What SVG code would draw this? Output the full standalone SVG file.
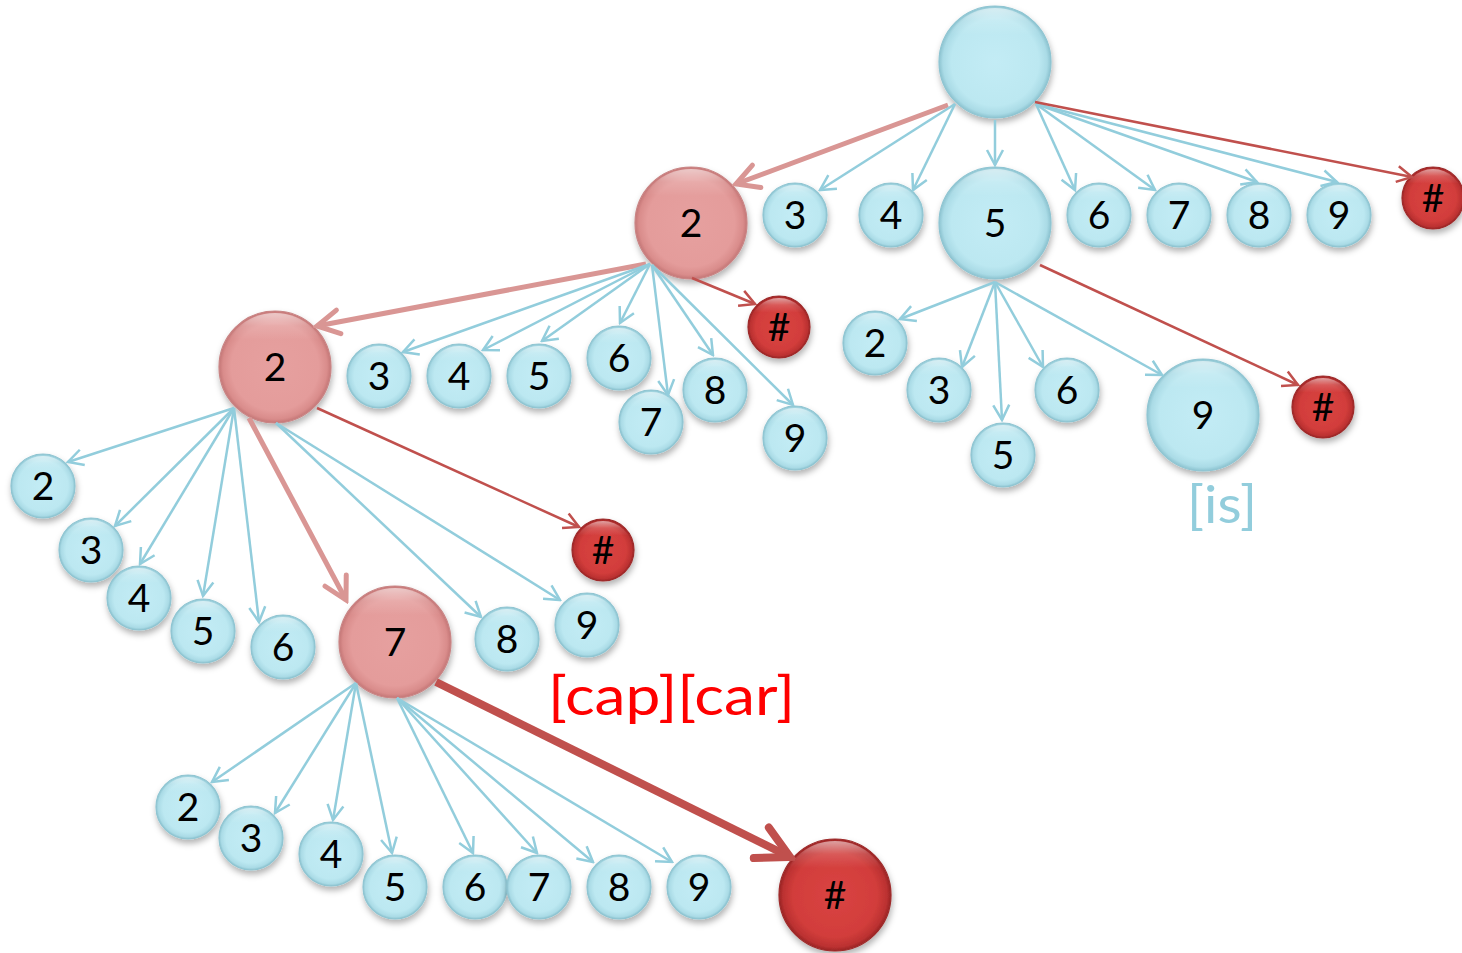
<svg xmlns="http://www.w3.org/2000/svg" width="1462" height="953" viewBox="0 0 1462 953">
<style>
.nb{fill:url(#gb);stroke:#8fc5d2;stroke-width:1.2;filter:url(#sh)}
.np{fill:url(#gp);stroke:#c98585;stroke-width:1.2;filter:url(#sh)}
.nr{fill:url(#gr);stroke:#9e2a2a;stroke-width:1.2;filter:url(#sh)}
.hl{fill:url(#ghl);stroke:none}
.t{font-family:Lato,"Liberation Sans",sans-serif;font-size:39px;fill:#000;text-anchor:middle}
.eb{stroke:#92cddc;stroke-width:2.5;fill:none;marker-end:url(#mb)}
.er{stroke:#c0504d;stroke-width:2.5;fill:none;marker-end:url(#mr)}
.ep{stroke:#d99694;stroke-width:5;fill:none;marker-end:url(#mp)}
.ed{stroke:#c0504d;stroke-width:8;fill:none;marker-end:url(#md)}
.lbl{font-family:Lato,"Liberation Sans",sans-serif}
</style>
<defs>
<filter id="sh" x="-30%" y="-30%" width="160%" height="170%">
<feDropShadow dx="1" dy="4" stdDeviation="3" flood-color="#000" flood-opacity="0.3"/>
</filter>
<radialGradient id="gb" cx="0.5" cy="0.5" r="0.5">
<stop offset="0" stop-color="#c3ecf5"/>
<stop offset="0.78" stop-color="#bce8f1"/>
<stop offset="0.93" stop-color="#aadbe6"/>
<stop offset="1" stop-color="#8cc3d0"/>
</radialGradient>
<radialGradient id="gp" cx="0.5" cy="0.5" r="0.5">
<stop offset="0" stop-color="#e6a09f"/>
<stop offset="0.78" stop-color="#e49c9b"/>
<stop offset="0.93" stop-color="#d98c8b"/>
<stop offset="1" stop-color="#c47676"/>
</radialGradient>
<radialGradient id="gr" cx="0.5" cy="0.5" r="0.5">
<stop offset="0" stop-color="#d94442"/>
<stop offset="0.75" stop-color="#d23d3b"/>
<stop offset="0.93" stop-color="#bb3131"/>
<stop offset="1" stop-color="#982424"/>
</radialGradient>
<linearGradient id="ghl" x1="0" y1="0" x2="0" y2="1">
<stop offset="0" stop-color="#fff" stop-opacity="0.55"/>
<stop offset="0.12" stop-color="#fff" stop-opacity="0.15"/>
<stop offset="0.25" stop-color="#fff" stop-opacity="0"/>
</linearGradient>
<marker id="mb" viewBox="0 0 20 20" refX="18" refY="10" markerWidth="20" markerHeight="20" markerUnits="userSpaceOnUse" orient="auto">
<path d="M3,2 L18,10 L3,18" fill="none" stroke="#92cddc" stroke-width="2.5"/>
</marker>
<marker id="mr" viewBox="0 0 20 20" refX="18" refY="10" markerWidth="20" markerHeight="20" markerUnits="userSpaceOnUse" orient="auto">
<path d="M3,2 L18,10 L3,18" fill="none" stroke="#c0504d" stroke-width="2.5"/>
</marker>
<marker id="mp" viewBox="0 0 30 30" refX="26" refY="15" markerWidth="30" markerHeight="30" markerUnits="userSpaceOnUse" orient="auto">
<path d="M4,3 L26,15 L4,27" fill="none" stroke="#d99694" stroke-width="5" stroke-linecap="round"/>
</marker>
<marker id="md" viewBox="0 0 44 44" refX="38" refY="22" markerWidth="44" markerHeight="44" markerUnits="userSpaceOnUse" orient="auto">
<path d="M6,5 L38,22 L6,39" fill="none" stroke="#c0504d" stroke-width="8" stroke-linecap="round"/>
</marker>
</defs>

<g id="nodes">
<g id="n-root"><circle class="nb" cx="995" cy="62" r="56"/><circle class="hl" cx="995" cy="62" r="54"/></g>

<g id="n1-2"><circle class="np" cx="691" cy="223" r="56"/><circle class="hl" cx="691" cy="223" r="54"/><text class="t" x="691" y="237">2</text></g>
<g id="n1-3"><circle class="nb" cx="795" cy="215" r="32"/><circle class="hl" cx="795" cy="215" r="30"/><text class="t" x="795" y="229">3</text></g>
<g id="n1-4"><circle class="nb" cx="891" cy="215" r="32"/><circle class="hl" cx="891" cy="215" r="30"/><text class="t" x="891" y="229">4</text></g>
<g id="n1-5"><circle class="nb" cx="995" cy="223" r="56"/><circle class="hl" cx="995" cy="223" r="54"/><text class="t" x="995" y="237">5</text></g>
<g id="n1-6"><circle class="nb" cx="1099" cy="215" r="32"/><circle class="hl" cx="1099" cy="215" r="30"/><text class="t" x="1099" y="229">6</text></g>
<g id="n1-7"><circle class="nb" cx="1179" cy="215" r="32"/><circle class="hl" cx="1179" cy="215" r="30"/><text class="t" x="1179" y="229">7</text></g>
<g id="n1-8"><circle class="nb" cx="1259" cy="215" r="32"/><circle class="hl" cx="1259" cy="215" r="30"/><text class="t" x="1259" y="229">8</text></g>
<g id="n1-9"><circle class="nb" cx="1339" cy="215" r="32"/><circle class="hl" cx="1339" cy="215" r="30"/><text class="t" x="1339" y="229">9</text></g>
<g id="n1-end"><circle class="nr" cx="1433" cy="198" r="31"/><circle class="hl" cx="1433" cy="198" r="29"/><text class="t" x="1433" y="212">#</text></g>

<g id="n2-2"><circle class="np" cx="275" cy="367" r="56"/><circle class="hl" cx="275" cy="367" r="54"/><text class="t" x="275" y="381">2</text></g>
<g id="n2-3"><circle class="nb" cx="379" cy="376" r="32"/><circle class="hl" cx="379" cy="376" r="30"/><text class="t" x="379" y="390">3</text></g>
<g id="n2-4"><circle class="nb" cx="459" cy="376" r="32"/><circle class="hl" cx="459" cy="376" r="30"/><text class="t" x="459" y="390">4</text></g>
<g id="n2-5"><circle class="nb" cx="539" cy="376" r="32"/><circle class="hl" cx="539" cy="376" r="30"/><text class="t" x="539" y="390">5</text></g>
<g id="n2-6"><circle class="nb" cx="619" cy="358" r="32"/><circle class="hl" cx="619" cy="358" r="30"/><text class="t" x="619" y="372">6</text></g>
<g id="n2-7"><circle class="nb" cx="651" cy="422" r="32"/><circle class="hl" cx="651" cy="422" r="30"/><text class="t" x="651" y="436">7</text></g>
<g id="n2-8"><circle class="nb" cx="715" cy="390" r="32"/><circle class="hl" cx="715" cy="390" r="30"/><text class="t" x="715" y="404">8</text></g>
<g id="n2-9"><circle class="nb" cx="795" cy="438" r="32"/><circle class="hl" cx="795" cy="438" r="30"/><text class="t" x="795" y="452">9</text></g>
<g id="n2-end"><circle class="nr" cx="779" cy="327" r="31"/><circle class="hl" cx="779" cy="327" r="29"/><text class="t" x="779" y="341">#</text></g>

<g id="n5-2"><circle class="nb" cx="875" cy="343" r="32"/><circle class="hl" cx="875" cy="343" r="30"/><text class="t" x="875" y="357">2</text></g>
<g id="n5-3"><circle class="nb" cx="939" cy="390" r="32"/><circle class="hl" cx="939" cy="390" r="30"/><text class="t" x="939" y="404">3</text></g>
<g id="n5-5"><circle class="nb" cx="1003" cy="455" r="32"/><circle class="hl" cx="1003" cy="455" r="30"/><text class="t" x="1003" y="469">5</text></g>
<g id="n5-6"><circle class="nb" cx="1067" cy="390" r="32"/><circle class="hl" cx="1067" cy="390" r="30"/><text class="t" x="1067" y="404">6</text></g>
<g id="n5-9"><circle class="nb" cx="1203" cy="415" r="56"/><circle class="hl" cx="1203" cy="415" r="54"/><text class="t" x="1203" y="429">9</text></g>
<g id="n5-end"><circle class="nr" cx="1323" cy="407" r="31"/><circle class="hl" cx="1323" cy="407" r="29"/><text class="t" x="1323" y="421">#</text></g>

<g id="n3-2"><circle class="nb" cx="43" cy="486" r="32"/><circle class="hl" cx="43" cy="486" r="30"/><text class="t" x="43" y="500">2</text></g>
<g id="n3-3"><circle class="nb" cx="91" cy="550" r="32"/><circle class="hl" cx="91" cy="550" r="30"/><text class="t" x="91" y="564">3</text></g>
<g id="n3-4"><circle class="nb" cx="139" cy="598" r="32"/><circle class="hl" cx="139" cy="598" r="30"/><text class="t" x="139" y="612">4</text></g>
<g id="n3-5"><circle class="nb" cx="203" cy="631" r="32"/><circle class="hl" cx="203" cy="631" r="30"/><text class="t" x="203" y="645">5</text></g>
<g id="n3-6"><circle class="nb" cx="283" cy="647" r="32"/><circle class="hl" cx="283" cy="647" r="30"/><text class="t" x="283" y="661">6</text></g>
<g id="n3-7"><circle class="np" cx="395" cy="642" r="56"/><circle class="hl" cx="395" cy="642" r="54"/><text class="t" x="395" y="656">7</text></g>
<g id="n3-8"><circle class="nb" cx="507" cy="639" r="32"/><circle class="hl" cx="507" cy="639" r="30"/><text class="t" x="507" y="653">8</text></g>
<g id="n3-9"><circle class="nb" cx="587" cy="625" r="32"/><circle class="hl" cx="587" cy="625" r="30"/><text class="t" x="587" y="639">9</text></g>
<g id="n3-end"><circle class="nr" cx="603" cy="550" r="31"/><circle class="hl" cx="603" cy="550" r="29"/><text class="t" x="603" y="564">#</text></g>

<g id="n4-2"><circle class="nb" cx="188" cy="807" r="32"/><circle class="hl" cx="188" cy="807" r="30"/><text class="t" x="188" y="821">2</text></g>
<g id="n4-3"><circle class="nb" cx="251" cy="838" r="32"/><circle class="hl" cx="251" cy="838" r="30"/><text class="t" x="251" y="852">3</text></g>
<g id="n4-4"><circle class="nb" cx="331" cy="854" r="32"/><circle class="hl" cx="331" cy="854" r="30"/><text class="t" x="331" y="868">4</text></g>
<g id="n4-5"><circle class="nb" cx="395" cy="887" r="32"/><circle class="hl" cx="395" cy="887" r="30"/><text class="t" x="395" y="901">5</text></g>
<g id="n4-6"><circle class="nb" cx="475" cy="887" r="32"/><circle class="hl" cx="475" cy="887" r="30"/><text class="t" x="475" y="901">6</text></g>
<g id="n4-7"><circle class="nb" cx="539" cy="887" r="32"/><circle class="hl" cx="539" cy="887" r="30"/><text class="t" x="539" y="901">7</text></g>
<g id="n4-8"><circle class="nb" cx="619" cy="887" r="32"/><circle class="hl" cx="619" cy="887" r="30"/><text class="t" x="619" y="901">8</text></g>
<g id="n4-9"><circle class="nb" cx="699" cy="887" r="32"/><circle class="hl" cx="699" cy="887" r="30"/><text class="t" x="699" y="901">9</text></g>
<g id="n4-end"><circle class="nr" cx="835" cy="895" r="56"/><circle class="hl" cx="835" cy="895" r="54"/><text class="t" x="835" y="909">#</text></g>
</g>

<g id="connectors">
<line class="ep" x1="948" y1="105" x2="736" y2="184"/>
<line class="eb" x1="955" y1="104" x2="820" y2="190"/>
<line class="eb" x1="955" y1="104" x2="913" y2="190"/>
<line class="eb" x1="995" y1="120" x2="995" y2="165"/>
<line class="eb" x1="1036" y1="104" x2="1075" y2="190"/>
<line class="eb" x1="1036" y1="104" x2="1155" y2="190"/>
<line class="eb" x1="1036" y1="104" x2="1257" y2="182"/>
<line class="eb" x1="1036" y1="104" x2="1337" y2="182"/>
<line class="er" x1="1035" y1="102" x2="1412" y2="177"/>

<line class="ep" x1="646" y1="264" x2="317" y2="326"/>
<line class="eb" x1="650" y1="264" x2="403" y2="352"/>
<line class="eb" x1="650" y1="264" x2="483" y2="350"/>
<line class="eb" x1="650" y1="264" x2="542" y2="341"/>
<line class="eb" x1="650" y1="264" x2="620" y2="323"/>
<line class="eb" x1="652" y1="265" x2="668" y2="395"/>
<line class="eb" x1="652" y1="265" x2="713" y2="355"/>
<line class="eb" x1="652" y1="265" x2="793" y2="405"/>
<line class="er" x1="692" y1="278" x2="755" y2="304"/>

<line class="eb" x1="995" y1="282" x2="900" y2="319"/>
<line class="eb" x1="995" y1="282" x2="962" y2="367"/>
<line class="eb" x1="995" y1="282" x2="1002" y2="420"/>
<line class="eb" x1="995" y1="282" x2="1043" y2="367"/>
<line class="eb" x1="995" y1="282" x2="1162" y2="375"/>
<line class="er" x1="1040" y1="265" x2="1298" y2="385"/>

<line class="eb" x1="234" y1="408" x2="68" y2="462"/>
<line class="eb" x1="234" y1="408" x2="115" y2="526"/>
<line class="eb" x1="234" y1="408" x2="140" y2="564"/>
<line class="eb" x1="234" y1="408" x2="203" y2="596"/>
<line class="eb" x1="234" y1="408" x2="259" y2="622"/>
<line class="ep" x1="249" y1="418" x2="346" y2="600"/>
<line class="eb" x1="276" y1="423" x2="481" y2="617"/>
<line class="eb" x1="276" y1="423" x2="560" y2="600"/>
<line class="er" x1="317" y1="408" x2="579" y2="527"/>

<line class="eb" x1="356" y1="683" x2="212" y2="782"/>
<line class="eb" x1="356" y1="683" x2="275" y2="813"/>
<line class="eb" x1="356" y1="683" x2="333" y2="820"/>
<line class="eb" x1="356" y1="683" x2="392" y2="853"/>
<line class="eb" x1="397" y1="698" x2="473" y2="853"/>
<line class="eb" x1="397" y1="698" x2="537" y2="853"/>
<line class="eb" x1="397" y1="698" x2="593" y2="862"/>
<line class="eb" x1="397" y1="698" x2="672" y2="862"/>
<line class="ed" x1="436" y1="682" x2="790" y2="857"/>
</g>

<g id="labels">
<text class="lbl" x="548" y="715" font-size="54" fill="#ff0000" textLength="247" lengthAdjust="spacingAndGlyphs">[cap][car]</text>
<text class="lbl" x="1187" y="523" font-size="52" fill="#92cddc" textLength="70" lengthAdjust="spacingAndGlyphs">[is]</text>
</g>
</svg>
